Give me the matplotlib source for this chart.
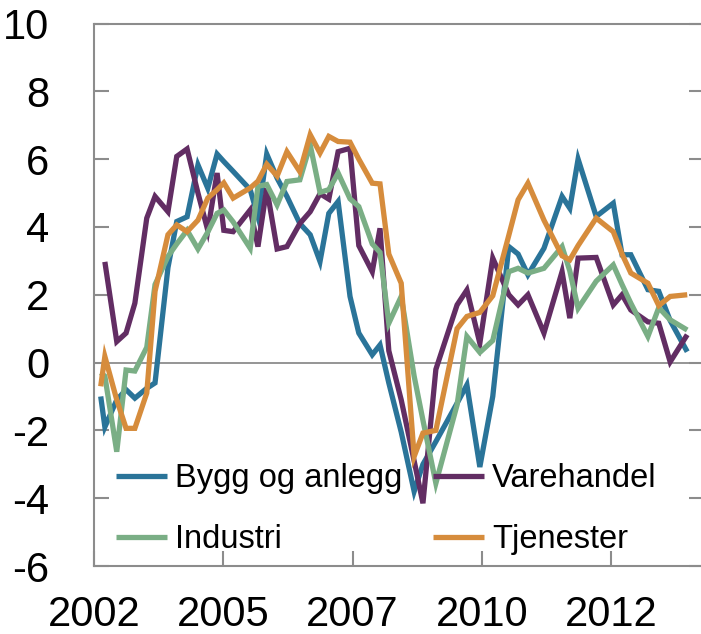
import matplotlib
matplotlib.use("Agg")
import matplotlib.pyplot as plt
import numpy as np

# Survey dates (decimal years), shared by all series
dates = [2002.63, 2002.71, 2002.94, 2003.12, 2003.29, 2003.52, 2003.68, 2003.93,
         2004.10, 2004.30, 2004.51, 2004.70, 2004.88, 2005.01, 2005.19, 2005.52,
         2005.67, 2005.84, 2006.04, 2006.23, 2006.48, 2006.68, 2006.87, 2007.04,
         2007.22, 2007.45, 2007.62, 2007.88, 2008.03, 2008.20, 2008.44, 2008.69,
         2008.86, 2009.11, 2009.52, 2009.71, 2009.96, 2010.21, 2010.52, 2010.70,
         2010.89, 2011.20, 2011.55, 2011.70, 2011.86, 2012.21, 2012.54, 2012.71,
         2012.88, 2013.21, 2013.42, 2013.64, 2013.97]

bygg = [-1.0, -1.9, -1.1, -0.8, -1.05, -0.76, -0.6, 2.8, 4.16, 4.3, 5.83, 5.14, 6.15,
        5.93, 5.64, 5.1, 4.3, 6.15, 5.44, 4.9, 4.1, 3.77, 2.98, 4.4, 4.75, 1.95, 0.87,
        0.23, 0.52, -0.6, -2.05, -3.8, -3.0, -2.33, -1.2, -0.66, -3.08, -1.0, 3.42, 3.2,
        2.59, 3.37, 4.9, 4.55, 6.0, 4.31, 4.7, 3.18, 3.18, 2.15, 2.1, 1.24, 0.32]

varehandel = [np.nan, 2.97, 0.62, 0.87, 1.75, 4.26, 4.9, 4.45, 6.08, 6.3, 5.0, 3.9, 5.59,
              3.9, 3.86, 4.5, 3.42, 5.14, 3.35, 3.42, 4.1, 4.45, 4.98, 4.82, 6.22, 6.32,
              3.45, 2.68, 3.96, 0.35, -1.1, -2.9, -4.15, -0.2, 1.7, 2.14, 0.57, 3.08, 2.0,
              1.7, 2.0, 0.87, 2.68, 1.31, 3.08, 3.1, 1.7, 2.0, 1.55, 1.2, 1.16, 0.02, 0.82]

industri = [-0.3, -0.4, -2.63, -0.22, -0.25, 0.45, 2.3, 3.13, 3.5, 3.9, 3.35, 3.85, 4.4,
            4.5, 4.15, 3.37, 5.2, 5.25, 4.65, 5.34, 5.39, 6.42, 5.02, 5.1, 5.59, 4.83,
            4.6, 3.5, 3.25, 1.16, 1.95, -0.4, -1.7, -3.56, -1.25, 0.77, 0.3, 0.65, 2.68,
            2.78, 2.64, 2.78, 3.42, 2.7, 1.6, 2.4, 2.88, 2.3, 1.75, 0.77, 1.62, 1.26, 0.96]

tjenester = [-0.7, 0.18, -1.1, -1.94, -1.94, -0.9, 2.1, 3.77, 4.06, 3.86, 4.2, 4.85, 5.1,
             5.3, 4.85, 5.15, 5.35, 5.85, 5.5, 6.22, 5.63, 6.72, 6.18, 6.67, 6.52, 6.5,
             6.0, 5.29, 5.27, 3.2, 2.34, -2.77, -2.08, -2.0, 1.0, 1.36, 1.48, 1.97, 3.75,
             4.8, 5.29, 4.2, 3.15, 3.03, 3.45, 4.26, 3.86, 3.2, 2.64, 2.34, 1.68, 1.95, 2.0]

series_names = ["Bygg og anlegg", "Varehandel", "Industri", "Tjenester"]
series_colors = ["#2a7499", "#622d63", "#7aae85", "#d68c3c"]

xtick_pos = [2002.5, 2005.0, 2007.5, 2010.0, 2012.5]
xtick_labels = ["2002", "2005", "2007", "2010", "2012"]
ytick_pos = [-6, -4, -2, 0, 2, 4, 6, 8, 10]
ytick_labels = ["-6", "-4", "-2", "0", "2", "4", "6", "8", "10"]

plt.rcParams['font.family'] = ['Liberation Sans', 'DejaVu Sans']
plt.rcParams['axes.unicode_minus'] = False

W, H = 701, 634
fig = plt.figure(figsize=(W / 100, H / 100), dpi=100)
ax = fig.add_axes([94 / W, (H - 566) / H, (704 - 94) / W, (566 - 23.5) / H])

gray = "#8c8c8c"
ax.axhline(0, color=gray, lw=1.3, zorder=1)

handles = []
for vals, name, col in zip([bygg, varehandel, industri, tjenester], series_names, series_colors):
    ln, = ax.plot(dates, vals, color=col, lw=3.8, label=name, solid_joinstyle='miter',
                  solid_capstyle='butt', zorder=2)
    handles.append(ln)

ax.set_xlim(2002.5, 2002.5 + (704 - 94) * 0.019335)
ax.set_ylim(-6, 10)
ax.set_xticks(xtick_pos)
ax.set_xticklabels(xtick_labels)
ax.set_yticks(ytick_pos)
ax.set_yticklabels(ytick_labels)

for s in ax.spines.values():
    s.set_color(gray)
    s.set_linewidth(1.5)

ax.tick_params(axis='both', direction='in', length=10.5, width=1.5, color=gray,
               labelsize=30, labelcolor='black')
ax.tick_params(axis='y', right=True, pad=32)
ax.tick_params(axis='x', pad=21)

# order so that rows read: Bygg | Varehandel, Industri | Tjenester
order = [0, 2, 1, 3]
leg = ax.legend([handles[i] for i in order], [series_names[i] for i in order],
                loc='upper left', bbox_to_anchor=(116 / W, 1 - 463 / H),
                bbox_transform=fig.transFigure, ncol=2, frameon=False,
                fontsize=23.5, handlelength=1.55, handletextpad=0.25,
                columnspacing=0.95, labelspacing=0.92, borderpad=0, borderaxespad=0)

fig.savefig("out.png", dpi=100)
